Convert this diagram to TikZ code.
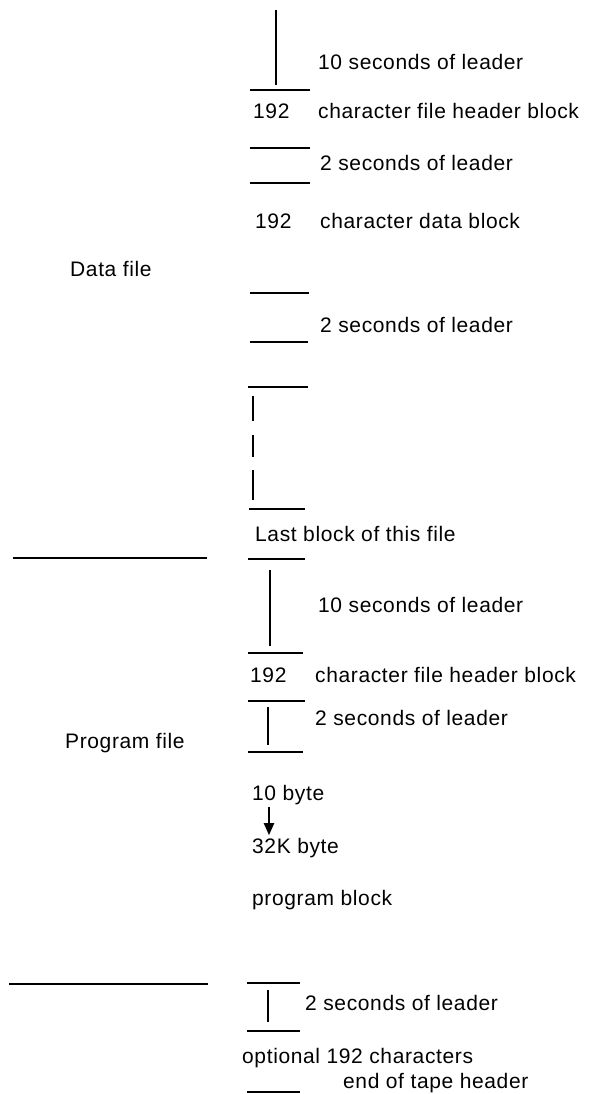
\documentclass[tikz,border=0pt]{standalone}
\usepackage{fontspec}
\setmainfont{Liberation Sans}[LetterSpace=3]
\usetikzlibrary{arrows.meta}

\begin{document}
\begin{tikzpicture}[x=1pt,y=-1pt,
  lbl/.style={anchor=mid west,inner sep=0pt,yshift=-3pt,font=\fontsize{21}{23}\selectfont},
  tick/.style={line width=1.6pt},
  sep/.style={line width=1.4pt}]
\useasboundingbox (0,0) rectangle (600,1094);
% data file
\node[lbl] (datafile) at (70,271) {Data file};
\draw[tick] (276,10) -- (276,85);
\node[lbl] (leadA) at (318,64) {10 seconds of leader};
\draw[tick] (250,90) -- (310,90);
\node[lbl] (numA) at (253,113) {192};
\node[lbl] (hdrA) at (318,113) {character file header block};
\draw[tick] (250,148) -- (310,148);
\node[lbl] (leadB) at (320,165) {2 seconds of leader};
\draw[tick] (250,183) -- (310,183);
\node[lbl] (numB) at (255,223) {192};
\node[lbl] (dataA) at (320,223) {character data block};
\draw[tick] (250,293) -- (309,293);
\node[lbl] (leadC) at (320,327) {2 seconds of leader};
\draw[tick] (250,342) -- (308,342);
\draw[tick] (248,387) -- (308,387);
\draw[tick] (253,396) -- (253,421);
\draw[tick] (253,435) -- (253,457);
\draw[tick] (253,470) -- (253,500);
\draw[tick] (249,509) -- (305,509);
\node[lbl] (lastblk) at (255,536) {Last block of this file};
\draw[sep] (13,558) -- (207,558);
% program file
\draw[tick] (248,559) -- (305,559);
\draw[tick] (270,570) -- (270,646);
\node[lbl] (leadD) at (318,607) {10 seconds of leader};
\draw[tick] (248,653) -- (303,653);
\node[lbl] (numC) at (250,677) {192};
\node[lbl] (hdrB) at (315,677) {character file header block};
\draw[tick] (248,701) -- (305,701);
\draw[tick] (268,707) -- (268,745);
\node[lbl] (leadE) at (315,720) {2 seconds of leader};
\node[lbl] (progfile) at (65,743) {Program file};
\draw[tick] (248,752) -- (303,752);
\node[lbl] (tenbyte) at (252,795) {10 byte};
\node[lbl] (kbyte) at (252,848) {32K byte};
\draw[-{Triangle[length=12pt,width=10pt]},line width=2pt] ([xshift=17pt,yshift=-2pt]tenbyte.south west) -- ([xshift=17pt,yshift=3pt]kbyte.north west);
\node[lbl] (progblk) at (252,900) {program block};
\draw[sep] (9,984) -- (208,984);
% end of tape
\draw[tick] (247,983) -- (300,983);
\draw[tick] (268,990) -- (268,1022);
\node[lbl] (leadF) at (305,1005) {2 seconds of leader};
\draw[tick] (247,1031) -- (300,1031);
\node[lbl] (optchar) at (242,1058) {optional 192 characters};
\node[lbl] (endtape) at (343,1083) {end of tape header};
\draw[tick] (247,1092) -- (300,1092);
\end{tikzpicture}
\end{document}
